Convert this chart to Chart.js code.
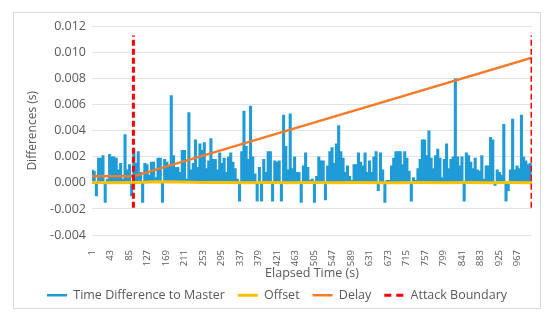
<!DOCTYPE html>
<html>
<head>
<meta charset="utf-8">
<script src="https://cdn.jsdelivr.net/npm/chart.js@4.4.0/dist/chart.umd.min.js"></script>
<style>
  html, body { margin: 0; padding: 0; background: #fff; }
  #frame { position: absolute; left: 13px; top: 12px; width: 526px; height: 295px; border: 1px solid #d9d9d9; }
</style>
</head>
<body>
<div id="frame"><canvas id="chart" width="526" height="295"></canvas></div>
<script>
// elapsed-time tick labels on the x axis
const tickLabels = [1, 43, 85, 127, 169, 211, 253, 295, 337, 379, 421, 463, 505,
  547, 589, 631, 673, 715, 757, 799, 841, 883, 925, 967];

// time difference to master, read every 5 s (t = 1, 6, 11, ... 996)
const diffValues = [
  0.0010, 0.0009, -0.0010, 0.0019, 0.0019, 0.0021, -0.0015, 0.0003, 0.0022, 0.0020,
  0.0020, 0.0019, 0.0010, 0.0015, 0.0003, 0.0037, 0.0010, 0.0014, -0.0010, 0.0026,
  0.0015, 0.0024, 0.0008, -0.0015, 0.0015, 0.0014, 0.0006, 0.0016, 0.0016, 0.0004,
  0.0019, 0.0019, -0.0015, 0.0018, 0.0016, 0.0013, 0.0067, 0.0021, 0.0012, 0.0012,
  0.0008, 0.0025, 0.0025, 0.0003, 0.0054, 0.0010, 0.0015, 0.0033, 0.0012, 0.0030,
  0.0025, 0.0031, 0.0011, 0.0017, 0.0034, 0.0018, 0.0018, 0.0010, 0.0023, 0.0015,
  0.0019, 0.0008, 0.0020, 0.0023, 0.0016, 0.0011, 0.0003, -0.0014, 0.0024, 0.0055,
  0.0028, 0.0018, 0.0059, 0.0020, 0.0007, -0.0014, 0.0012, -0.0014, 0.0018, 0.0008,
  0.0024, 0.0024, -0.0014, 0.0017, 0.0016, 0.0017, -0.0014, 0.0052, 0.0028, 0.0010,
  0.0053, 0.0011, 0.0020, 0.0008, 0.0008, -0.0015, 0.0013, 0.0023, 0.0012, 0.0002,
  0.0003, -0.0015, 0.0005, 0.0020, 0.0017, 0.0017, -0.0013, 0.0013, 0.0024, 0.0027,
  0.0015, 0.0030, 0.0044, 0.0024, 0.0019, 0.0008, 0.0013, 0.0005, 0.0002, 0.0014,
  0.0014, 0.0023, 0.0016, 0.0013, 0.0023, 0.0008, 0.0017, 0.0008, 0.0020, 0.0024,
  -0.0006, 0.0023, 0.0010, -0.0015, 0.0002, 0.0002, 0.0013, 0.0019, 0.0024, 0.0024,
  0.0024, 0.0014, 0.0024, 0.0019, 0.0009, -0.0014, 0.0004, 0.0002, 0.0011, 0.0018,
  0.0033, 0.0033, 0.0021, 0.0040, 0.0019, 0.0011, 0.0021, 0.0026, 0.0019, 0.0004,
  0.0018, 0.0030, 0.0011, 0.0018, 0.0020, 0.0080, 0.0020, 0.0013, 0.0020, -0.0014,
  0.0023, 0.0021, 0.0016, 0.0011, 0.0019, 0.0010, 0.0009, 0.0021, 0.0003, 0.0013,
  0.0013, 0.0035, 0.0033, -0.0002, 0.0010, 0.0008, 0.0006, 0.0045, -0.0014, -0.0006,
  0.0010, 0.0049, 0.0010, 0.0013, 0.0011, 0.0052, 0.0020, 0.0017, 0.0014, 0.0015
];
const diffTimes = diffValues.map((v, i) => 1 + 5 * i);

// offset, read every 50 s
const offsetTimes = [1, 50, 100, 150, 200, 250, 300, 350, 400, 450, 500,
  550, 600, 650, 700, 750, 800, 850, 900, 950, 1000];
const offsetValues = [0.00002, 0.00001, 0.00003, 0.00008, 0.00006, 0.00003, 0.00002, 0.00001, 0.00002, 0.00001, 0.00002,
  0.00001, 0.00002, 0.00001, 0.00001, 0.00002, 0.00001, 0.00002, 0.00001, 0.00002, 0.00001];

// delay
const delayTimes = [1, 95, 1000];
const delayValues = [0.0005, 0.0005, 0.0096];

// attack boundaries (vertical dashed lines)
const boundaryTimes = [95, 1000];
const boundaryLow = -0.0019;
const boundaryHigh = 0.0113;

const toPoints = (xs, ys) => xs.map((x, i) => ({ x: x, y: ys[i] }));
const boundaryPoints = [];
boundaryTimes.forEach((t, i) => {
  if (i > 0) boundaryPoints.push({ x: (t + boundaryTimes[i - 1]) / 2, y: null });
  boundaryPoints.push({ x: t, y: boundaryLow }, { x: t, y: boundaryHigh });
});

const textColor = '#595959';
const baseFont = "'Open Sans', sans-serif";
const blue = '#1f9bd7';

new Chart(document.getElementById('chart').getContext('2d'), {
  type: 'line',
  data: {
    datasets: [
      {
        type: 'bar',
        label: 'Time Difference to Master',
        data: toPoints(diffTimes, diffValues),
        backgroundColor: blue,
        borderColor: blue,
        borderWidth: 0,
        barThickness: 2.4,
        order: 4
      },
      {
        label: 'Offset',
        data: toPoints(offsetTimes, offsetValues),
        borderColor: '#ffc000',
        backgroundColor: '#ffc000',
        borderWidth: 3,
        pointRadius: 0,
        order: 3
      },
      {
        label: 'Delay',
        data: toPoints(delayTimes, delayValues),
        borderColor: '#f47b2c',
        backgroundColor: '#f47b2c',
        borderWidth: 2.5,
        pointRadius: 0,
        order: 2
      },
      {
        label: 'Attack Boundary',
        data: boundaryPoints,
        borderColor: '#ff0000',
        backgroundColor: '#ff0000',
        borderWidth: 3,
        borderDash: [6, 3],
        pointRadius: 0,
        spanGaps: false,
        order: 1
      }
    ]
  },
  options: {
    responsive: false,
    animation: false,
    layout: { padding: { left: 8, right: 8, top: 0, bottom: 0 } },
    plugins: {
      legend: {
        position: 'bottom',
        maxHeight: 32,
        labels: {
          usePointStyle: true,
          pointStyle: 'line',
          pointStyleWidth: 20,
          padding: 13,
          color: textColor,
          font: { family: baseFont, size: 12.5 },
          sort: (a, b) => a.datasetIndex - b.datasetIndex,
          generateLabels: chart => {
            const items = Chart.defaults.plugins.legend.labels.generateLabels(chart);
            items.forEach(it => {
              if (it.datasetIndex === 0) { it.lineWidth = 2.5; it.strokeStyle = blue; }
              if (it.datasetIndex === 3) { it.lineDash = [7, 5]; }
            });
            return items;
          }
        }
      },
      tooltip: { enabled: false }
    },
    scales: {
      x: {
        type: 'linear',
        min: 1,
        max: 1000,
        offset: false,
        grid: { display: false },
        border: { display: false },
        afterBuildTicks: s => { s.ticks = tickLabels.map(v => ({ value: v })); },
        afterFit: s => { s.height = 41; },
        ticks: {
          autoSkip: false,
          minRotation: 90,
          maxRotation: 90,
          padding: 7,
          color: textColor,
          font: { family: baseFont, size: 9.5 },
          callback: v => String(v)
        },
        title: {
          display: true,
          text: 'Elapsed Time (s)',
          color: textColor,
          font: { family: baseFont, size: 12.5, lineHeight: 1 },
          padding: { top: 0, bottom: -4 }
        }
      },
      y: {
        min: -0.004,
        max: 0.012,
        afterFit: s => { s.width = 70; },
        grid: { color: '#e3e3e3', drawTicks: false },
        border: { display: false },
        ticks: {
          stepSize: 0.002,
          padding: 6,
          color: textColor,
          font: { family: baseFont, size: 12.5 },
          callback: v => v.toFixed(3)
        },
        title: {
          display: true,
          text: 'Differences (s)',
          color: textColor,
          font: { family: baseFont, size: 12 },
          padding: { top: 3, bottom: 0 }
        }
      }
    }
  }
});
</script>
</body>
</html>
